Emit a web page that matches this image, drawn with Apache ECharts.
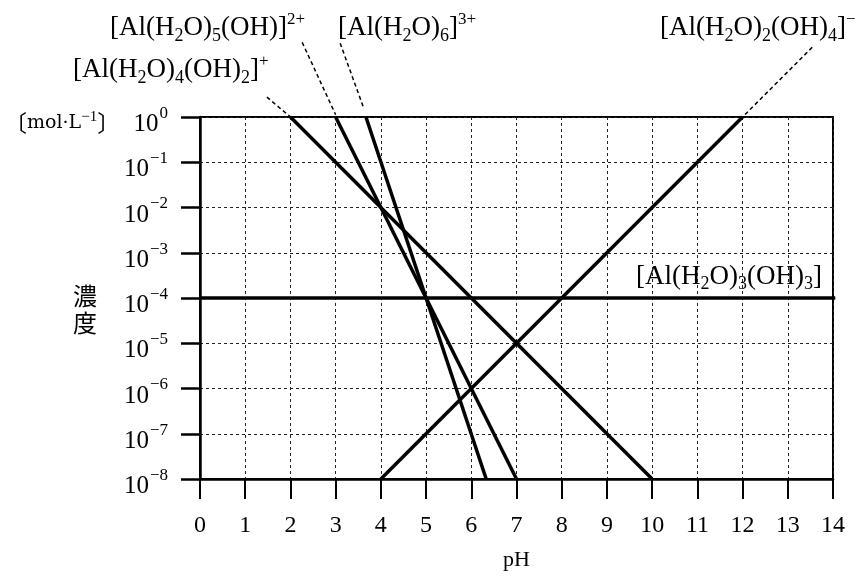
<!DOCTYPE html>
<html>
<head>
<meta charset="utf-8">
<script src="https://cdn.jsdelivr.net/npm/echarts@6/dist/echarts.min.js"></script>
<style>
html,body{margin:0;padding:0;background:#fff;}
#chart{width:868px;height:576px;}
</style>
</head>
<body>
<div id="chart"></div>
<script>
// x: pH, y: log10 of concentration (mol/L)
const pHTicks = [0,1,2,3,4,5,6,7,8,9,10,11,12,13,14];
const logCTicks = [-8,-7,-6,-5,-4,-3,-2,-1,0];

// species lines (pH, log10 C)
const hexaPH = [3.67, 6.33];      const hexaLogC = [0, -8];   // [Al(H2O)6]3+
const pentaPH = [3, 7];           const pentaLogC = [0, -8];  // [Al(H2O)5(OH)]2+
const tetraPH = [2, 10];          const tetraLogC = [0, -8];  // [Al(H2O)4(OH)2]+
const neutralPH = [0, 14.05];     const neutralLogC = [-4, -4]; // [Al(H2O)3(OH)3]
const anionPH = [4, 12];          const anionLogC = [-8, 0];  // [Al(H2O)2(OH)4]-

// leader (callout) lines: label end -> line end
const leadTetraPH = [1.48, 2];    const leadTetraLogC = [0.44, 0];
const leadPentaPH = [2.26, 3];    const leadPentaLogC = [1.65, 0.05];
const leadHexaPH = [3.10, 3.62];  const leadHexaLogC = [1.63, 0.2];
const leadAnionPH = [13.54, 12];  const leadAnionLogC = [1.54, 0];

function pts(xs, ys){ return xs.map((x,i)=>[x, ys[i]]); }

const serif = 'Liberation Serif';
const richLbl = {
  m: {fontSize: 27, fontFamily: serif, color:'#000', lineHeight: 34, verticalAlign:'middle'},
  sb: {fontSize: 18, fontFamily: serif, color:'#000', lineHeight: 15, verticalAlign:'bottom'},
  sp: {fontSize: 17, fontFamily: serif, color:'#000', lineHeight: 16, verticalAlign:'top'}
};
function lbl(text, x, y){
  return {type:'text', left:x, top:y, style:{text:text, rich:richLbl, fill:'#000'}, silent:true};
}

const chart = echarts.init(document.getElementById('chart'));
const mainLine = {color:'#000', width:3.5};
const leadLine = {color:'#000', width:1.5, type:[4,3]};

function mainSeries(xs, ys){
  return {type:'line', data: pts(xs, ys), symbol:'none', lineStyle: mainLine, silent:true, clip:false, z:5};
}
function leadSeries(xs, ys){
  return {type:'line', data: pts(xs, ys), symbol:'none', lineStyle: leadLine, silent:true, clip:false, z:4};
}

chart.setOption({
  animation:false,
  backgroundColor:'#fff',
  grid:{left:200, right:35, top:117, bottom:95, show:true, borderColor:'#000', borderWidth:2, backgroundColor:'transparent'},
  xAxis:{
    type:'value', min:0, max:14, interval:1,
    name:'pH', nameLocation:'middle', nameGap:70,
    nameTextStyle:{fontFamily:serif, fontSize:22, color:'#000'},
    axisLine:{onZero:false, lineStyle:{color:'#000', width:2.5}},
    axisTick:{inside:false, length:20, lineStyle:{color:'#000', width:2}},
    axisLabel:{margin:35, fontFamily:serif, fontSize:24, color:'#000',
      formatter: v => pHTicks.includes(v) ? String(v) : ''},
    splitLine:{show:true, lineStyle:{color:'#222', width:1, type:[3,3]}}
  },
  yAxis:{
    type:'value', min:-8, max:0, interval:1,
    axisLine:{onZero:false, lineStyle:{color:'#000', width:2.5}},
    axisTick:{inside:false, length:19, lineStyle:{color:'#000', width:2.5}},
    axisLabel:{margin:32, padding:[8,0,0,0],
      formatter: v => logCTicks.includes(v) ? '{b|10}{s|' + (v===0 ? '0' : '−' + Math.abs(v)) + '}' : '',
      rich:{
        b:{fontFamily:serif, fontSize:25, color:'#000', lineHeight:32, verticalAlign:'bottom'},
        s:{fontFamily:serif, fontSize:17, color:'#000', lineHeight:15, verticalAlign:'top', padding:[0,0,0,1]}
      }},
    splitLine:{show:true, lineStyle:{color:'#222', width:1, type:[3,3]}}
  },
  graphic:[
    {type:'text', left:4, top:110, silent:true, style:{
      text:'{br|〔}{t|mol·L}{u|−1}{br|〕}', fill:'#000',
      rich:{
        br:{fontFamily:'Noto Sans CJK JP', fontSize:23, lineHeight:26, verticalAlign:'middle'},
        t:{fontFamily:'DejaVu Serif', fontSize:19, lineHeight:26, verticalAlign:'middle'},
        u:{fontFamily:serif, fontSize:15, lineHeight:14, verticalAlign:'top'}
      }}},
    {type:'text', left:73, top:282, silent:true, style:{
      text:'濃\n度', fill:'#000', font:'24px "Noto Sans CJK JP"', lineHeight:27}},
    lbl('{m|[Al(H}{sb|2}{m|O)}{sb|5}{m|(OH)]}{sp|2+}', 110, 11),
    lbl('{m|[Al(H}{sb|2}{m|O)}{sb|6}{m|]}{sp|3+}', 338, 11),
    lbl('{m|[Al(H}{sb|2}{m|O)}{sb|2}{m|(OH)}{sb|4}{m|]}{sp|−}', 660, 11),
    lbl('{m|[Al(H}{sb|2}{m|O)}{sb|4}{m|(OH)}{sb|2}{m|]}{sp|+}', 73, 53),
    lbl('{m|[Al(H}{sb|2}{m|O)}{sb|3}{m|(OH)}{sb|3}{m|]}', 636, 263)
  ],
  series:[
    mainSeries(hexaPH, hexaLogC),
    mainSeries(pentaPH, pentaLogC),
    mainSeries(tetraPH, tetraLogC),
    mainSeries(neutralPH, neutralLogC),
    mainSeries(anionPH, anionLogC),
    leadSeries(leadTetraPH, leadTetraLogC),
    leadSeries(leadPentaPH, leadPentaLogC),
    leadSeries(leadHexaPH, leadHexaLogC),
    leadSeries(leadAnionPH, leadAnionLogC)
  ]
});
</script>
</body>
</html>
